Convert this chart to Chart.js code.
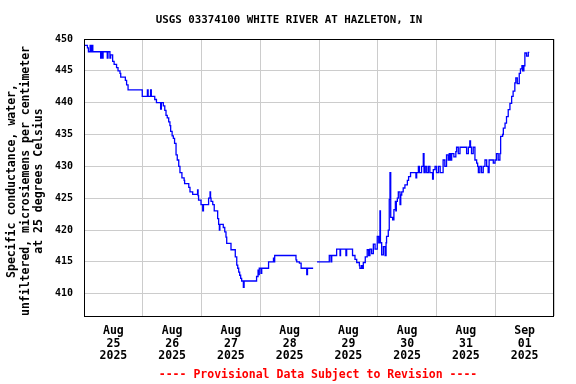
<!DOCTYPE html>
<html>
<head>
<meta charset="utf-8">
<script src="https://cdn.jsdelivr.net/npm/chart.js@4"></script>
<style>
  body { margin: 0; background: #fff; }
  canvas { display: block; }
</style>
</head>
<body>
<canvas id="grafico" width="576" height="384"></canvas>
<script>
// hours since Aug 25 2025 00:00 and the value that starts there (null = gap)
const horas = [
  0, 1.4, 1.8, 2.5, 2.8, 3.3, 3.6, 6.8, 7.1, 7.4, 7.8, 9.5, 9.8, 10.6, 10.9, 11.7, 12.3, 13.3, 13.9, 14.7,
  15, 16.9, 17.4, 18, 23.8, 25.9, 26.2, 27.2, 27.5, 28.9, 29.6, 31.3, 31.6, 32.4, 33, 33.5, 34, 34.6, 35.1, 35.4,
  36, 36.5, 37, 37.6, 38.1, 38.7, 39.2, 40, 40.9, 41.1, 42.8, 43.3, 44.4, 46.4, 46.6, 46.8, 47.8, 48.5, 48.8, 50.9,
  51.5, 51.7, 51.9, 52.6, 53.2, 54.6, 55, 55.3, 55.5, 56.9, 57.5, 58, 58.3, 60.05, 61.8, 62.4, 62.8, 63.2, 63.6, 64,
  64.4, 65.1, 65.4, 70.5, 71.1, 71.4, 71.6, 72.3, 72.6, 75.4, 77.4, 77.7, 77.9, 86.6, 86.9, 88, 88.7, 91, 91.3, 93.6,
  93.7, 95.2, 100.2, 100.9, 101.2, 103.2, 104.6, 104.8, 107, 107.3, 109.7, 110.7, 111.4, 112.5, 112.7, 113.4, 113.8, 114.1, 114.9, 115.7,
  116.3, 116.8, 117.5, 118.2, 118.9, 119.8, 120.4, 120.9, 121.1, 121.6, 122.3, 123, 123.4, 123.6, 124.3, 124.7, 125, 125.3, 126.1, 126.6,
  127.2, 127.4, 127.6, 128, 128.4, 129.1, 129.4, 129.8, 130.4, 131.1, 132.1, 132.6, 133.4, 135.6, 135.9, 136.6, 137, 137.9, 138.6, 138.9,
  139.4, 140, 140.7, 141.3, 142.4, 142.7, 143.4, 144, 144.8, 145.5, 146.7, 147.4, 148.1, 148.8, 149.2, 149.7, 150.2, 151.1, 151.9, 152.2,
  152.9, 153.6, 156.3, 157, 157.6, 157.9, 158.3, 159, 159.7, 160.4, 160.8, 161.1, 161.7, 162.4, 163.1, 163.8, 164.5, 165.1, 165.5, 167.2,
  167.9, 168.5, 169.2, 169.9, 170.2, 171, 171.3, 172, 172.6, 173.3, 174, 174.7, 175.3, 176, 176.4, 177, 177.8, 178.3, 178.9, 179.2,
  179.7, 180.1, 180.8, 181.5, 181.9
];
const valores = [
  449, 448.6, 448, 449, 448, 449, 448, 447, 448, 447, 448, 447, 448, 447, 447.5, 446.5, 446, 445.5, 445, 444.6,
  444, 443.5, 442.8, 442, 441, 442, 441, 442, 441, 440.5, 440, 439, 440, 439.5, 438.8, 438, 437.6, 437, 436.4, 435.5,
  434.8, 434.4, 433.6, 431.8, 431, 430, 429, 428.2, 427.8, 427.3, 426.7, 426, 425.6, 426.3, 425.4, 424.7, 424, 423, 424, 425,
  426, 425, 424.5, 424, 423, 421.8, 420.9, 420, 420.9, 420.4, 419.7, 418.9, 417.9, 416.9, 415.8, 414.5, 414, 413.4, 412.9, 412.4,
  412, 411, 412, 412.7, 413.7, 413, 414, 413.2, 414, 415, 415.6, 415, 416, 415.3, 415, 414.8, 414, 413, 414, 414,
  null, 415, 416, 415, 416, 417, 416, 417, 416, 417, 416, 415.4, 414.9, 414.4, 414, 414.4, 414, 414.9, 415.8, 416.9,
  416, 417, 416.3, 417.8, 417, 419, 418, 423, 418, 416.1, 417.4, 416, 418, 419, 420, 424.8, 429, 422, 421.6, 423.2,
  424.5, 423, 424.5, 425, 426, 424, 425.5, 426, 426.6, 427.1, 427.8, 428.4, 429, 428.2, 429, 430, 429, 430, 432, 429,
  430, 429, 430, 429, 428, 429.5, 430, 429, 430, 429, 431, 430, 431.8, 431, 432, 431, 432, 431.5, 432.3, 433,
  432, 433, 432, 433, 434, 433, 432, 433, 431, 430.5, 430, 429, 430, 429, 430, 431, 430, 429, 431, 430.5,
  431, 432, 431, 432, 434.7, 435, 436, 436.8, 437.8, 438.9, 439.9, 441, 441.8, 443.1, 443.9, 443, 444.6, 445.3, 445.8, 445,
  445.8, 447.8, 447.3, 447.9, 447.9
];

const rotulosMes = ['Aug', 'Aug', 'Aug', 'Aug', 'Aug', 'Aug', 'Aug', 'Sep'];
const rotulosDia = ['25', '26', '27', '28', '29', '30', '31', '01'];
const rotuloAno = '2025';
const ticksY = [410, 415, 420, 425, 430, 435, 440, 445, 450];

const titulo = 'USGS 03374100 WHITE RIVER AT HAZLETON, IN';
const tituloY = [
  'Specific conductance, water,',
  'unfiltered, microsiemens per centimeter',
  'at 25 degrees Celsius'
];
const rodape = '---- Provisional Data Subject to Revision ----';

const fonteMono = '"DejaVu Sans Mono", "Liberation Mono", monospace';

const pontos = horas.map((h, i) => ({ x: h, y: valores[i] }));

// textos fixos e moldura do gráfico
const textosExtras = {
  id: 'textosExtras',
  afterDraw(chart) {
    const ctx = chart.ctx;
    const area = chart.chartArea;
    ctx.save();

    ctx.strokeStyle = '#000';
    ctx.lineWidth = 1;
    ctx.strokeRect(area.left + 0.5, area.top + 0.5, area.right - area.left - 1, area.bottom - area.top);

    ctx.fillStyle = '#000';
    ctx.textAlign = 'center';
    ctx.textBaseline = 'middle';
    ctx.font = 'bold 10.8px ' + fonteMono;
    ctx.fillText(titulo, 289, 20);

    ctx.fillStyle = '#ff0000';
    ctx.font = 'bold 11.5px ' + fonteMono;
    ctx.fillText(rodape, 318, 375);

    ctx.fillStyle = '#000';
    ctx.font = 'bold 11.5px ' + fonteMono;
    const xs = [12, 26, 39];
    tituloY.forEach((linha, i) => {
      ctx.save();
      ctx.translate(xs[i], 181);
      ctx.rotate(-Math.PI / 2);
      ctx.fillText(linha, 0, 0);
      ctx.restore();
    });

    ctx.restore();
  }
};

new Chart(document.getElementById('grafico'), {
  type: 'line',
  data: {
    datasets: [{
      data: pontos,
      borderColor: '#0000ff',
      borderWidth: 1.3,
      pointRadius: 0,
      stepped: true,
      spanGaps: false,
      fill: false
    }]
  },
  options: {
    responsive: false,
    animation: false,
    devicePixelRatio: 1,
    layout: { padding: { top: 39, right: 22, left: 0, bottom: 0 } },
    plugins: {
      legend: { display: false },
      tooltip: { enabled: false },
      title: { display: false }
    },
    scales: {
      x: {
        type: 'linear',
        min: 0,
        max: 192,
        afterBuildTicks: (scale) => {
          const t = [];
          for (let h = 0; h <= 192; h += 12) t.push({ value: h });
          scale.ticks = t;
        },
        afterFit: (scale) => { scale.height = 68; },
        border: { display: false },
        grid: {
          drawTicks: false,
          lineWidth: 1,
          color: (c) => (c.tick && c.tick.value % 24 === 0) ? '#cccccc' : 'rgba(0,0,0,0)'
        },
        ticks: {
          autoSkip: false,
          maxRotation: 0,
          padding: 9,
          color: '#000',
          font: { family: fonteMono, weight: 'bold', size: 11.5, lineHeight: 1.09 },
          callback: (v) => {
            if (v % 24 !== 12) return '';
            const i = (v - 12) / 24;
            return [rotulosMes[i], rotulosDia[i], rotuloAno];
          }
        }
      },
      y: {
        min: 406.5,
        max: 450,
        afterBuildTicks: (scale) => { scale.ticks = ticksY.map(v => ({ value: v })); },
        afterFit: (scale) => { scale.width = 84; },
        border: { display: false },
        grid: {
          drawTicks: false,
          lineWidth: 1,
          color: (c) => (c.tick && c.tick.value === 450) ? 'rgba(0,0,0,0)' : '#cccccc'
        },
        ticks: {
          padding: 11,
          color: '#000',
          font: { family: fonteMono, weight: 'bold', size: 10 }
        }
      }
    }
  },
  plugins: [textosExtras]
});
</script>
</body>
</html>
